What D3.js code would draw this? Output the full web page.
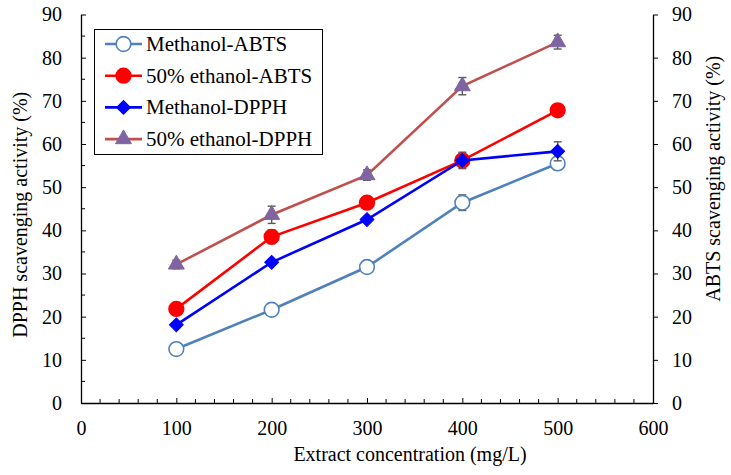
<!DOCTYPE html>
<html>
<head>
<meta charset="utf-8">
<script src="https://cdn.jsdelivr.net/npm/d3@7"></script>
<style>
  html, body { margin: 0; padding: 0; background: #fff; }
  svg, svg text { font-family: 'Liberation Serif', Tinos, 'Times New Roman', 'DejaVu Serif', serif; }
</style>
</head>
<body>
<div id="chart"></div>
<script>
(function() {
    // concentrations (mg/L)
    const concentrations = [100, 200, 300, 400, 500];

    // scavenging activity (%)
    const methanolABTS = [12.5, 21.6, 31.5, 46.4, 55.5];
    const ethanolABTS = [21.8, 38.5, 46.4, 56.2, 67.8];
    const methanolDPPH = [18.1, 32.6, 42.5, 56.2, 58.3];
    const ethanolDPPH = [32.1, 43.6, 52.8, 73.4, 83.6];

    // error bars (+/-)
    const methanolABTSErr = [0.6, 0.6, 0.7, 1.8, 1.5];
    const ethanolABTSErr = [0.5, 1.6, 0.6, 1.9, 0.6];
    const methanolDPPHErr = [0.5, 0.6, 0.6, 1.6, 2.2];
    const ethanolDPPHErr = [1.0, 2.0, 1.2, 2.0, 1.6];

    const seriesNames = ['Methanol-ABTS', '50% ethanol-ABTS', 'Methanol-DPPH', '50% ethanol-DPPH'];

    const xTicks = [0, 100, 200, 300, 400, 500, 600];
    const yTicks = [0, 10, 20, 30, 40, 50, 60, 70, 80, 90];

    const W = 731, H = 475;

    const series = [
        { name: seriesNames[0], values: methanolABTS, err: methanolABTSErr, line: '#4f81bd', symbol: 'circle', fill: '#ffffff', stroke: '#4f81bd' },
        { name: seriesNames[1], values: ethanolABTS, err: ethanolABTSErr, line: '#ff0000', symbol: 'circle', fill: '#ff0000', stroke: '#ff0000' },
        { name: seriesNames[2], values: methanolDPPH, err: methanolDPPHErr, line: '#0000ff', symbol: 'diamond', fill: '#0000ff', stroke: '#0000ff' },
        { name: seriesNames[3], values: ethanolDPPH, err: ethanolDPPHErr, line: '#c0504d', symbol: 'triangle', fill: '#8064a2', stroke: '#8064a2' }
    ];

    const x = d3.scaleLinear().domain([0, 600]).range([81, 653]);
    const y = d3.scaleLinear().domain([0, 90]).range([403, 14.5]);

    const svg = d3.select('#chart').append('svg')
        .attr('width', W)
        .attr('height', H)
        .attr('viewBox', '0 0 ' + W + ' ' + H);

    // minor ticks (inside)
    const gMinor = svg.append('g').attr('stroke', '#000').attr('stroke-width', 1);
    gMinor.selectAll('line.xm').data(d3.range(20, 600, 20).filter(function(v) { return v % 100 !== 0; }))
        .join('line').attr('class', 'xm')
        .attr('x1', function(d) { return x(d); }).attr('x2', function(d) { return x(d); })
        .attr('y1', y(0)).attr('y2', y(0) - 4);
    gMinor.selectAll('line.ym').data(d3.range(5, 90, 10))
        .join('line').attr('class', 'ym')
        .attr('x1', x(0)).attr('x2', x(0) + 4)
        .attr('y1', function(d) { return y(d); }).attr('y2', function(d) { return y(d); });

    function styleAxis(g) {
        g.attr('font-family', null);
        g.selectAll('path.domain').attr('stroke', '#000').attr('stroke-width', 1.3);
        g.selectAll('.tick line').attr('stroke', '#000').attr('stroke-width', 1);
        g.selectAll('text').attr('font-size', 20).attr('fill', '#000');
    }

    svg.append('g')
        .attr('transform', 'translate(0,' + y(0) + ')')
        .call(d3.axisBottom(x).tickValues(xTicks).tickSizeInner(-5).tickSizeOuter(0).tickPadding(18))
        .call(styleAxis);

    svg.append('g')
        .attr('transform', 'translate(' + x(0) + ',0)')
        .call(d3.axisLeft(y).tickValues(yTicks).tickSizeInner(-5).tickSizeOuter(0).tickPadding(19))
        .call(styleAxis);

    svg.append('g')
        .attr('transform', 'translate(' + x(600) + ',0)')
        .call(d3.axisRight(y).tickValues(yTicks).tickSizeInner(5).tickSizeOuter(0).tickPadding(14))
        .call(styleAxis);

    // axis titles
    svg.append('text')
        .attr('x', 410).attr('y', 461)
        .attr('text-anchor', 'middle')
        .attr('font-size', 20)
        .text('Extract concentration (mg/L)');

    svg.append('text')
        .attr('transform', 'translate(27,' + ((y(0) + y(90)) / 2 + 6) + ') rotate(-90)')
        .attr('text-anchor', 'middle')
        .attr('font-size', 20)
        .text('DPPH scavenging activity (%)');

    svg.append('text')
        .attr('transform', 'translate(720,' + ((y(0) + y(90)) / 2 - 30) + ') rotate(-90)')
        .attr('text-anchor', 'middle')
        .attr('font-size', 20)
        .text('ABTS scavenging activity (%)');

    function symbolPath(kind) {
        if (kind === 'circle') return d3.symbol(d3.symbolCircle, 170)();
        if (kind === 'diamond') return d3.symbol(d3.symbolSquare, 96)();
        return d3.symbol(d3.symbolTriangle, 110)();
    }
    function symbolTransform(kind, px, py) {
        return 'translate(' + px + ',' + py + ')' + (kind === 'diamond' ? ' rotate(45)' : '');
    }

    const line = d3.line()
        .x(function(d, i) { return x(concentrations[i]); })
        .y(function(d) { return y(d); });

    series.forEach(function(s) {
        const g = svg.append('g');
        g.append('path')
            .attr('d', line(s.values))
            .attr('fill', 'none')
            .attr('stroke', s.line)
            .attr('stroke-width', 2.6);

        const eb = g.append('g').attr('stroke', '#595959').attr('stroke-width', 1.4);
        s.values.forEach(function(v, i) {
            const px = x(concentrations[i]);
            const y1 = y(v - s.err[i]), y2 = y(v + s.err[i]);
            eb.append('line').attr('x1', px).attr('x2', px).attr('y1', y1).attr('y2', y2);
            eb.append('line').attr('x1', px - 4).attr('x2', px + 4).attr('y1', y1).attr('y2', y1);
            eb.append('line').attr('x1', px - 4).attr('x2', px + 4).attr('y1', y2).attr('y2', y2);
        });

        g.selectAll('path.mk').data(s.values).join('path')
            .attr('class', 'mk')
            .attr('d', symbolPath(s.symbol))
            .attr('transform', function(d, i) { return symbolTransform(s.symbol, x(concentrations[i]), y(d)); })
            .attr('fill', s.fill)
            .attr('stroke', s.stroke)
            .attr('stroke-width', s.symbol === 'circle' ? 1.6 : 1);
    });

    // legend
    const legend = svg.append('g');
    legend.append('rect')
        .attr('x', 94.5).attr('y', 29.5)
        .attr('width', 228).attr('height', 125)
        .attr('fill', '#fff')
        .attr('stroke', '#000')
        .attr('stroke-width', 1);

    series.forEach(function(s, i) {
        const ly = 44 + i * 31.7;
        legend.append('line')
            .attr('x1', 105).attr('x2', 142)
            .attr('y1', ly).attr('y2', ly)
            .attr('stroke', s.line).attr('stroke-width', 2.6);
        legend.append('path')
            .attr('d', symbolPath(s.symbol))
            .attr('transform', symbolTransform(s.symbol, 123.5, ly))
            .attr('fill', s.fill)
            .attr('stroke', s.stroke)
            .attr('stroke-width', s.symbol === 'circle' ? 1.6 : 1);
        legend.append('text')
            .attr('x', 146).attr('y', ly + 7)
            .attr('font-size', 21)
            .text(s.name);
    });
})();
</script>
</body>
</html>
